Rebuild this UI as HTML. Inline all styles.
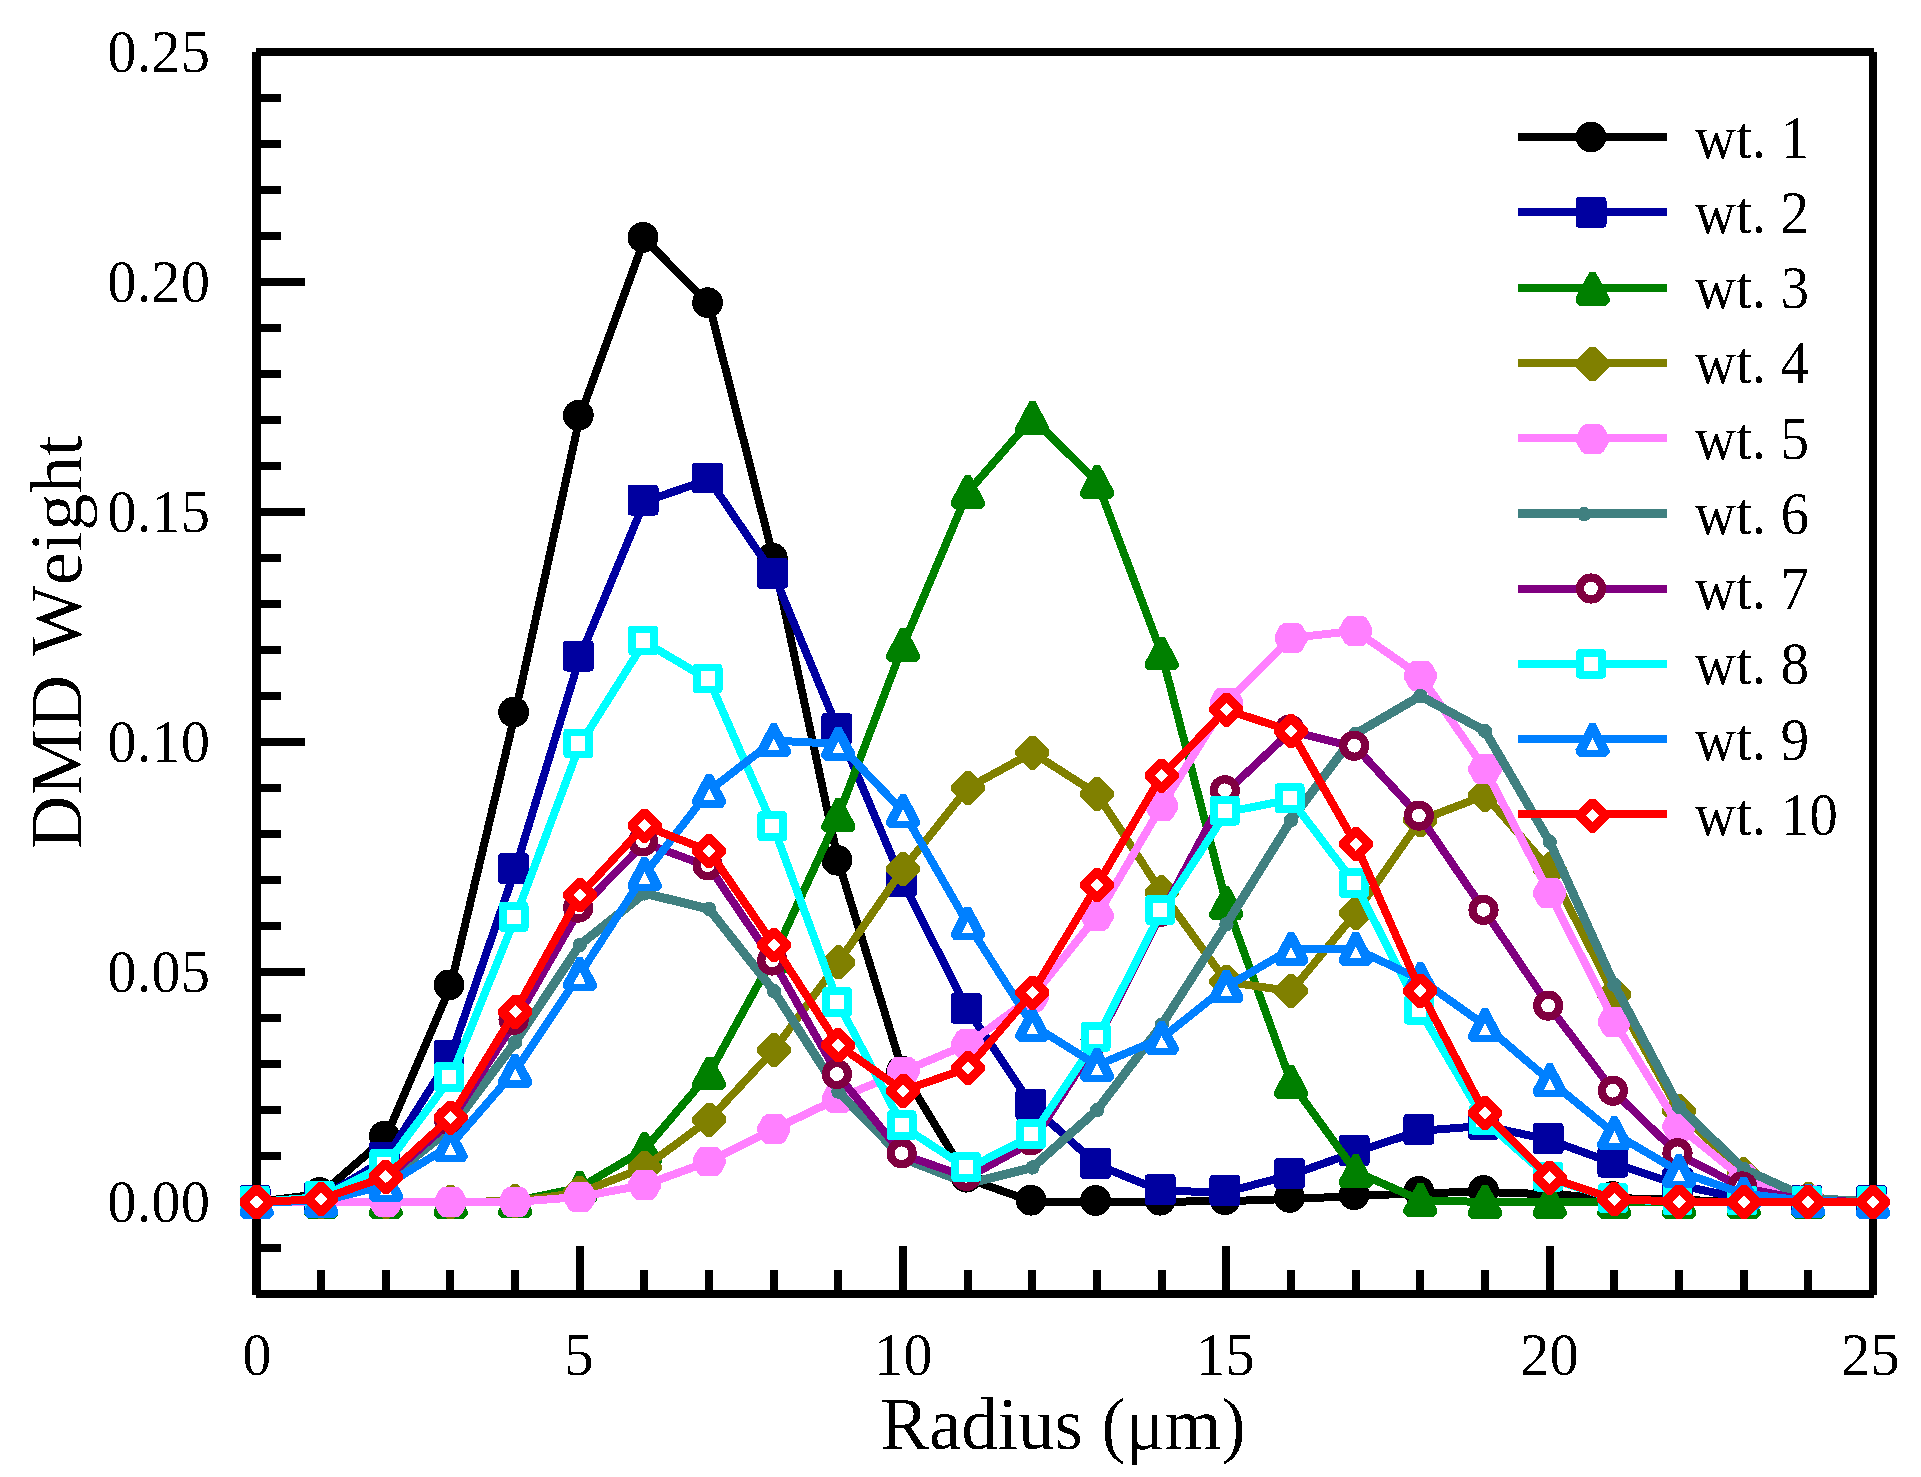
<!DOCTYPE html>
<html><head><meta charset="utf-8"><title>DMD Weight vs Radius</title>
<style>
html,body{margin:0;padding:0;background:#fff;}
body{width:1921px;height:1477px;overflow:hidden;}
svg{display:block;}
text{font-family:"Liberation Serif",serif;fill:#000;font-kerning:none;}
.tk{font-size:60.5px;}
.lg{font-size:61px;}
</style></head><body>
<svg width="1921" height="1477" viewBox="0 0 1921 1477">
<defs><filter id="na" x="-5%" y="-5%" width="110%" height="110%" color-interpolation-filters="sRGB"><feComponentTransfer><feFuncA type="discrete" tableValues="0 0 0 1 1"/></feComponentTransfer></filter></defs>
<rect width="1921" height="1477" fill="#fff"/>

<g shape-rendering="crispEdges" fill="#000">
<rect x="252" y="52" width="9" height="1243"/>
<rect x="256" y="48" width="1618" height="8"/>
<rect x="1869" y="52" width="8" height="1243"/>
<rect x="256" y="1290" width="1618" height="8"/>
<rect x="261" y="1244" width="20" height="8"/>
<rect x="261" y="1198" width="44" height="8"/>
<rect x="261" y="1152" width="20" height="8"/>
<rect x="261" y="1106" width="20" height="8"/>
<rect x="261" y="1060" width="20" height="8"/>
<rect x="261" y="1014" width="20" height="8"/>
<rect x="261" y="968" width="44" height="8"/>
<rect x="261" y="922" width="20" height="8"/>
<rect x="261" y="876" width="20" height="8"/>
<rect x="261" y="830" width="20" height="8"/>
<rect x="261" y="784" width="20" height="8"/>
<rect x="261" y="738" width="44" height="8"/>
<rect x="261" y="692" width="20" height="8"/>
<rect x="261" y="646" width="20" height="8"/>
<rect x="261" y="600" width="20" height="8"/>
<rect x="261" y="554" width="20" height="8"/>
<rect x="261" y="508" width="44" height="8"/>
<rect x="261" y="462" width="20" height="8"/>
<rect x="261" y="416" width="20" height="8"/>
<rect x="261" y="370" width="20" height="8"/>
<rect x="261" y="324" width="20" height="8"/>
<rect x="261" y="278" width="44" height="8"/>
<rect x="261" y="232" width="20" height="8"/>
<rect x="261" y="186" width="20" height="8"/>
<rect x="261" y="140" width="20" height="8"/>
<rect x="261" y="94" width="20" height="8"/>
<rect x="317" y="1270" width="8" height="20"/>
<rect x="382" y="1270" width="8" height="20"/>
<rect x="446" y="1270" width="8" height="20"/>
<rect x="511" y="1270" width="8" height="20"/>
<rect x="576" y="1246" width="8" height="44"/>
<rect x="640" y="1270" width="8" height="20"/>
<rect x="705" y="1270" width="8" height="20"/>
<rect x="770" y="1270" width="8" height="20"/>
<rect x="834" y="1270" width="8" height="20"/>
<rect x="899" y="1246" width="8" height="44"/>
<rect x="964" y="1270" width="8" height="20"/>
<rect x="1028" y="1270" width="8" height="20"/>
<rect x="1093" y="1270" width="8" height="20"/>
<rect x="1158" y="1270" width="8" height="20"/>
<rect x="1222" y="1246" width="8" height="44"/>
<rect x="1287" y="1270" width="8" height="20"/>
<rect x="1352" y="1270" width="8" height="20"/>
<rect x="1416" y="1270" width="8" height="20"/>
<rect x="1481" y="1270" width="8" height="20"/>
<rect x="1546" y="1246" width="8" height="44"/>
<rect x="1610" y="1270" width="8" height="20"/>
<rect x="1675" y="1270" width="8" height="20"/>
<rect x="1740" y="1270" width="8" height="20"/>
<rect x="1804" y="1270" width="8" height="20"/>
</g>
<g fill="none" stroke-linejoin="round" stroke-linecap="butt" shape-rendering="crispEdges">
<polyline points="256.5,1202.0 321.2,1193.9 385.8,1137.7 450.5,986.4 515.1,713.6 579.8,416.9 644.5,238.9 709.1,304.2 773.8,559.5 838.4,861.7 903.1,1072.4 967.8,1178.7 1032.4,1201.7 1097.1,1202.0 1161.7,1201.7 1226.4,1201.2 1291.1,1198.9 1355.7,1196.2 1420.4,1192.9 1485.0,1192.0 1549.7,1194.3 1614.4,1198.0 1679.0,1199.8 1743.7,1202.0 1808.3,1202.0 1873.0,1202.0" fill="none" stroke="#000000" stroke-width="8"/>
<circle cx="255.0" cy="1200.5" r="15.4" fill="#000000"/>
<circle cx="319.7" cy="1192.4" r="15.4" fill="#000000"/>
<circle cx="384.3" cy="1136.2" r="15.4" fill="#000000"/>
<circle cx="449.0" cy="984.9" r="15.4" fill="#000000"/>
<circle cx="513.6" cy="712.1" r="15.4" fill="#000000"/>
<circle cx="578.3" cy="415.4" r="15.4" fill="#000000"/>
<circle cx="643.0" cy="237.4" r="15.4" fill="#000000"/>
<circle cx="707.6" cy="302.7" r="15.4" fill="#000000"/>
<circle cx="772.3" cy="558.0" r="15.4" fill="#000000"/>
<circle cx="836.9" cy="860.2" r="15.4" fill="#000000"/>
<circle cx="901.6" cy="1070.9" r="15.4" fill="#000000"/>
<circle cx="966.3" cy="1177.2" r="15.4" fill="#000000"/>
<circle cx="1030.9" cy="1200.2" r="15.4" fill="#000000"/>
<circle cx="1095.6" cy="1200.5" r="15.4" fill="#000000"/>
<circle cx="1160.2" cy="1200.2" r="15.4" fill="#000000"/>
<circle cx="1224.9" cy="1199.7" r="15.4" fill="#000000"/>
<circle cx="1289.6" cy="1197.4" r="15.4" fill="#000000"/>
<circle cx="1354.2" cy="1194.7" r="15.4" fill="#000000"/>
<circle cx="1418.9" cy="1191.4" r="15.4" fill="#000000"/>
<circle cx="1483.5" cy="1190.5" r="15.4" fill="#000000"/>
<circle cx="1548.2" cy="1192.8" r="15.4" fill="#000000"/>
<circle cx="1612.9" cy="1196.5" r="15.4" fill="#000000"/>
<circle cx="1677.5" cy="1198.3" r="15.4" fill="#000000"/>
<circle cx="1742.2" cy="1200.5" r="15.4" fill="#000000"/>
<circle cx="1806.8" cy="1200.5" r="15.4" fill="#000000"/>
<circle cx="1871.5" cy="1200.5" r="15.4" fill="#000000"/>
<polyline points="256.5,1202.0 321.2,1198.0 385.8,1158.9 450.5,1056.8 515.1,870.0 579.8,657.5 644.5,501.6 709.1,479.5 773.8,574.7 838.4,730.2 903.1,882.9 967.8,1009.9 1032.4,1106.0 1097.1,1164.9 1161.7,1191.1 1226.4,1192.0 1291.1,1175.0 1355.7,1152.0 1420.4,1130.8 1485.0,1125.8 1549.7,1140.0 1614.4,1163.5 1679.0,1185.1 1743.7,1198.9 1808.3,1201.7 1873.0,1202.0" fill="none" stroke="#0000a0" stroke-width="8"/>
<rect x="243.3" y="1188.8" width="23.4" height="23.4" fill="#0000a0" stroke="#0000a0" stroke-width="7.6" stroke-linejoin="round"/>
<rect x="308.0" y="1184.8" width="23.4" height="23.4" fill="#0000a0" stroke="#0000a0" stroke-width="7.6" stroke-linejoin="round"/>
<rect x="372.6" y="1145.7" width="23.4" height="23.4" fill="#0000a0" stroke="#0000a0" stroke-width="7.6" stroke-linejoin="round"/>
<rect x="437.3" y="1043.6" width="23.4" height="23.4" fill="#0000a0" stroke="#0000a0" stroke-width="7.6" stroke-linejoin="round"/>
<rect x="501.9" y="856.8" width="23.4" height="23.4" fill="#0000a0" stroke="#0000a0" stroke-width="7.6" stroke-linejoin="round"/>
<rect x="566.6" y="644.3" width="23.4" height="23.4" fill="#0000a0" stroke="#0000a0" stroke-width="7.6" stroke-linejoin="round"/>
<rect x="631.3" y="488.4" width="23.4" height="23.4" fill="#0000a0" stroke="#0000a0" stroke-width="7.6" stroke-linejoin="round"/>
<rect x="695.9" y="466.3" width="23.4" height="23.4" fill="#0000a0" stroke="#0000a0" stroke-width="7.6" stroke-linejoin="round"/>
<rect x="760.6" y="561.5" width="23.4" height="23.4" fill="#0000a0" stroke="#0000a0" stroke-width="7.6" stroke-linejoin="round"/>
<rect x="825.2" y="717.0" width="23.4" height="23.4" fill="#0000a0" stroke="#0000a0" stroke-width="7.6" stroke-linejoin="round"/>
<rect x="889.9" y="869.7" width="23.4" height="23.4" fill="#0000a0" stroke="#0000a0" stroke-width="7.6" stroke-linejoin="round"/>
<rect x="954.6" y="996.7" width="23.4" height="23.4" fill="#0000a0" stroke="#0000a0" stroke-width="7.6" stroke-linejoin="round"/>
<rect x="1019.2" y="1092.8" width="23.4" height="23.4" fill="#0000a0" stroke="#0000a0" stroke-width="7.6" stroke-linejoin="round"/>
<rect x="1083.9" y="1151.7" width="23.4" height="23.4" fill="#0000a0" stroke="#0000a0" stroke-width="7.6" stroke-linejoin="round"/>
<rect x="1148.5" y="1177.9" width="23.4" height="23.4" fill="#0000a0" stroke="#0000a0" stroke-width="7.6" stroke-linejoin="round"/>
<rect x="1213.2" y="1178.8" width="23.4" height="23.4" fill="#0000a0" stroke="#0000a0" stroke-width="7.6" stroke-linejoin="round"/>
<rect x="1277.9" y="1161.8" width="23.4" height="23.4" fill="#0000a0" stroke="#0000a0" stroke-width="7.6" stroke-linejoin="round"/>
<rect x="1342.5" y="1138.8" width="23.4" height="23.4" fill="#0000a0" stroke="#0000a0" stroke-width="7.6" stroke-linejoin="round"/>
<rect x="1407.2" y="1117.6" width="23.4" height="23.4" fill="#0000a0" stroke="#0000a0" stroke-width="7.6" stroke-linejoin="round"/>
<rect x="1471.8" y="1112.6" width="23.4" height="23.4" fill="#0000a0" stroke="#0000a0" stroke-width="7.6" stroke-linejoin="round"/>
<rect x="1536.5" y="1126.8" width="23.4" height="23.4" fill="#0000a0" stroke="#0000a0" stroke-width="7.6" stroke-linejoin="round"/>
<rect x="1601.2" y="1150.3" width="23.4" height="23.4" fill="#0000a0" stroke="#0000a0" stroke-width="7.6" stroke-linejoin="round"/>
<rect x="1665.8" y="1171.9" width="23.4" height="23.4" fill="#0000a0" stroke="#0000a0" stroke-width="7.6" stroke-linejoin="round"/>
<rect x="1730.5" y="1185.7" width="23.4" height="23.4" fill="#0000a0" stroke="#0000a0" stroke-width="7.6" stroke-linejoin="round"/>
<rect x="1795.1" y="1188.5" width="23.4" height="23.4" fill="#0000a0" stroke="#0000a0" stroke-width="7.6" stroke-linejoin="round"/>
<rect x="1859.8" y="1188.8" width="23.4" height="23.4" fill="#0000a0" stroke="#0000a0" stroke-width="7.6" stroke-linejoin="round"/>
<polyline points="256.5,1202.0 321.2,1202.0 385.8,1202.0 450.5,1202.0 515.1,1201.1 579.8,1187.7 644.5,1149.6 709.1,1073.7 773.8,955.9 838.4,815.6 903.1,645.4 967.8,492.2 1032.4,418.2 1097.1,482.1 1161.7,653.7 1226.4,903.5 1291.1,1082.4 1355.7,1171.6 1420.4,1200.2 1485.0,1202.0 1549.7,1202.0 1614.4,1202.0 1679.0,1202.0 1743.7,1202.0 1808.3,1202.0 1873.0,1202.0" fill="none" stroke="#008000" stroke-width="8"/>
<path d="M253.6 1184.8L259.4 1184.8L273.5 1211.2L273.5 1215.0L270.0 1218.7L243.0 1218.7L239.5 1215.0L239.5 1211.2Z" fill="#008000"/>
<path d="M318.3 1184.8L324.1 1184.8L338.2 1211.2L338.2 1215.0L334.7 1218.7L307.7 1218.7L304.2 1215.0L304.2 1211.2Z" fill="#008000"/>
<path d="M382.9 1184.8L388.7 1184.8L402.8 1211.2L402.8 1215.0L399.3 1218.7L372.3 1218.7L368.8 1215.0L368.8 1211.2Z" fill="#008000"/>
<path d="M447.6 1184.8L453.4 1184.8L467.5 1211.2L467.5 1215.0L464.0 1218.7L437.0 1218.7L433.5 1215.0L433.5 1211.2Z" fill="#008000"/>
<path d="M512.2 1183.9L518.0 1183.9L532.1 1210.3L532.1 1214.1L528.6 1217.8L501.6 1217.8L498.1 1214.1L498.1 1210.3Z" fill="#008000"/>
<path d="M576.9 1170.5L582.7 1170.5L596.8 1196.9L596.8 1200.7L593.3 1204.4L566.3 1204.4L562.8 1200.7L562.8 1196.9Z" fill="#008000"/>
<path d="M641.6 1132.4L647.4 1132.4L661.5 1158.8L661.5 1162.6L658.0 1166.3L631.0 1166.3L627.5 1162.6L627.5 1158.8Z" fill="#008000"/>
<path d="M706.2 1056.5L712.0 1056.5L726.1 1082.9L726.1 1086.7L722.6 1090.4L695.6 1090.4L692.1 1086.7L692.1 1082.9Z" fill="#008000"/>
<path d="M770.9 938.7L776.7 938.7L790.8 965.1L790.8 968.9L787.3 972.6L760.3 972.6L756.8 968.9L756.8 965.1Z" fill="#008000"/>
<path d="M835.5 798.4L841.3 798.4L855.4 824.8L855.4 828.6L851.9 832.3L824.9 832.3L821.4 828.6L821.4 824.8Z" fill="#008000"/>
<path d="M900.2 628.2L906.0 628.2L920.1 654.6L920.1 658.4L916.6 662.1L889.6 662.1L886.1 658.4L886.1 654.6Z" fill="#008000"/>
<path d="M964.9 475.0L970.7 475.0L984.8 501.4L984.8 505.2L981.3 508.9L954.3 508.9L950.8 505.2L950.8 501.4Z" fill="#008000"/>
<path d="M1029.5 401.0L1035.3 401.0L1049.4 427.4L1049.4 431.2L1045.9 434.9L1018.9 434.9L1015.4 431.2L1015.4 427.4Z" fill="#008000"/>
<path d="M1094.2 464.9L1100.0 464.9L1114.1 491.3L1114.1 495.1L1110.6 498.8L1083.6 498.8L1080.1 495.1L1080.1 491.3Z" fill="#008000"/>
<path d="M1158.8 636.5L1164.6 636.5L1178.7 662.9L1178.7 666.7L1175.2 670.4L1148.2 670.4L1144.7 666.7L1144.7 662.9Z" fill="#008000"/>
<path d="M1223.5 886.3L1229.3 886.3L1243.4 912.7L1243.4 916.5L1239.9 920.2L1212.9 920.2L1209.4 916.5L1209.4 912.7Z" fill="#008000"/>
<path d="M1288.2 1065.2L1294.0 1065.2L1308.1 1091.6L1308.1 1095.4L1304.6 1099.1L1277.6 1099.1L1274.1 1095.4L1274.1 1091.6Z" fill="#008000"/>
<path d="M1352.8 1154.4L1358.6 1154.4L1372.7 1180.8L1372.7 1184.6L1369.2 1188.3L1342.2 1188.3L1338.7 1184.6L1338.7 1180.8Z" fill="#008000"/>
<path d="M1417.5 1183.0L1423.3 1183.0L1437.4 1209.4L1437.4 1213.2L1433.9 1216.9L1406.9 1216.9L1403.4 1213.2L1403.4 1209.4Z" fill="#008000"/>
<path d="M1482.1 1184.8L1487.9 1184.8L1502.0 1211.2L1502.0 1215.0L1498.5 1218.7L1471.5 1218.7L1468.0 1215.0L1468.0 1211.2Z" fill="#008000"/>
<path d="M1546.8 1184.8L1552.6 1184.8L1566.7 1211.2L1566.7 1215.0L1563.2 1218.7L1536.2 1218.7L1532.7 1215.0L1532.7 1211.2Z" fill="#008000"/>
<path d="M1611.5 1184.8L1617.3 1184.8L1631.4 1211.2L1631.4 1215.0L1627.9 1218.7L1600.9 1218.7L1597.4 1215.0L1597.4 1211.2Z" fill="#008000"/>
<path d="M1676.1 1184.8L1681.9 1184.8L1696.0 1211.2L1696.0 1215.0L1692.5 1218.7L1665.5 1218.7L1662.0 1215.0L1662.0 1211.2Z" fill="#008000"/>
<path d="M1740.8 1184.8L1746.6 1184.8L1760.7 1211.2L1760.7 1215.0L1757.2 1218.7L1730.2 1218.7L1726.7 1215.0L1726.7 1211.2Z" fill="#008000"/>
<path d="M1805.4 1184.8L1811.2 1184.8L1825.3 1211.2L1825.3 1215.0L1821.8 1218.7L1794.8 1218.7L1791.3 1215.0L1791.3 1211.2Z" fill="#008000"/>
<path d="M1870.1 1184.8L1875.9 1184.8L1890.0 1211.2L1890.0 1215.0L1886.5 1218.7L1859.5 1218.7L1856.0 1215.0L1856.0 1211.2Z" fill="#008000"/>
<polyline points="256.5,1202.0 321.2,1202.0 385.8,1202.0 450.5,1202.0 515.1,1201.1 579.8,1192.8 644.5,1167.5 709.1,1119.7 773.8,1050.2 838.4,962.3 903.1,869.0 967.8,788.0 1032.4,752.6 1097.1,794.0 1161.7,892.4 1226.4,981.7 1291.1,991.3 1355.7,913.1 1420.4,820.2 1485.0,795.4 1549.7,869.4 1614.4,995.0 1679.0,1110.9 1743.7,1174.4 1808.3,1198.8 1873.0,1202.0" fill="none" stroke="#808000" stroke-width="8"/>
<path d="M253.9 1185.0L259.1 1185.0L273.5 1199.4L273.5 1204.6L259.1 1219.0L253.9 1219.0L239.5 1204.6L239.5 1199.4Z" fill="#808000"/>
<path d="M318.6 1185.0L323.8 1185.0L338.2 1199.4L338.2 1204.6L323.8 1219.0L318.6 1219.0L304.2 1204.6L304.2 1199.4Z" fill="#808000"/>
<path d="M383.2 1185.0L388.4 1185.0L402.8 1199.4L402.8 1204.6L388.4 1219.0L383.2 1219.0L368.8 1204.6L368.8 1199.4Z" fill="#808000"/>
<path d="M447.9 1185.0L453.1 1185.0L467.5 1199.4L467.5 1204.6L453.1 1219.0L447.9 1219.0L433.5 1204.6L433.5 1199.4Z" fill="#808000"/>
<path d="M512.5 1184.1L517.7 1184.1L532.1 1198.5L532.1 1203.7L517.7 1218.1L512.5 1218.1L498.1 1203.7L498.1 1198.5Z" fill="#808000"/>
<path d="M577.2 1175.8L582.4 1175.8L596.8 1190.2L596.8 1195.4L582.4 1209.8L577.2 1209.8L562.8 1195.4L562.8 1190.2Z" fill="#808000"/>
<path d="M641.9 1150.5L647.1 1150.5L661.5 1164.9L661.5 1170.1L647.1 1184.5L641.9 1184.5L627.5 1170.1L627.5 1164.9Z" fill="#808000"/>
<path d="M706.5 1102.7L711.7 1102.7L726.1 1117.1L726.1 1122.3L711.7 1136.7L706.5 1136.7L692.1 1122.3L692.1 1117.1Z" fill="#808000"/>
<path d="M771.2 1033.2L776.4 1033.2L790.8 1047.6L790.8 1052.8L776.4 1067.2L771.2 1067.2L756.8 1052.8L756.8 1047.6Z" fill="#808000"/>
<path d="M835.8 945.3L841.0 945.3L855.4 959.7L855.4 964.9L841.0 979.3L835.8 979.3L821.4 964.9L821.4 959.7Z" fill="#808000"/>
<path d="M900.5 852.0L905.7 852.0L920.1 866.4L920.1 871.6L905.7 886.0L900.5 886.0L886.1 871.6L886.1 866.4Z" fill="#808000"/>
<path d="M965.2 771.0L970.4 771.0L984.8 785.4L984.8 790.6L970.4 805.0L965.2 805.0L950.8 790.6L950.8 785.4Z" fill="#808000"/>
<path d="M1029.8 735.6L1035.0 735.6L1049.4 750.0L1049.4 755.2L1035.0 769.6L1029.8 769.6L1015.4 755.2L1015.4 750.0Z" fill="#808000"/>
<path d="M1094.5 777.0L1099.7 777.0L1114.1 791.4L1114.1 796.6L1099.7 811.0L1094.5 811.0L1080.1 796.6L1080.1 791.4Z" fill="#808000"/>
<path d="M1159.1 875.4L1164.3 875.4L1178.7 889.8L1178.7 895.0L1164.3 909.4L1159.1 909.4L1144.7 895.0L1144.7 889.8Z" fill="#808000"/>
<path d="M1223.8 964.7L1229.0 964.7L1243.4 979.1L1243.4 984.3L1229.0 998.7L1223.8 998.7L1209.4 984.3L1209.4 979.1Z" fill="#808000"/>
<path d="M1288.5 974.3L1293.7 974.3L1308.1 988.7L1308.1 993.9L1293.7 1008.3L1288.5 1008.3L1274.1 993.9L1274.1 988.7Z" fill="#808000"/>
<path d="M1353.1 896.1L1358.3 896.1L1372.7 910.5L1372.7 915.7L1358.3 930.1L1353.1 930.1L1338.7 915.7L1338.7 910.5Z" fill="#808000"/>
<path d="M1417.8 803.2L1423.0 803.2L1437.4 817.6L1437.4 822.8L1423.0 837.2L1417.8 837.2L1403.4 822.8L1403.4 817.6Z" fill="#808000"/>
<path d="M1482.4 778.4L1487.6 778.4L1502.0 792.8L1502.0 798.0L1487.6 812.4L1482.4 812.4L1468.0 798.0L1468.0 792.8Z" fill="#808000"/>
<path d="M1547.1 852.4L1552.3 852.4L1566.7 866.8L1566.7 872.0L1552.3 886.4L1547.1 886.4L1532.7 872.0L1532.7 866.8Z" fill="#808000"/>
<path d="M1611.8 978.0L1617.0 978.0L1631.4 992.4L1631.4 997.6L1617.0 1012.0L1611.8 1012.0L1597.4 997.6L1597.4 992.4Z" fill="#808000"/>
<path d="M1676.4 1093.9L1681.6 1093.9L1696.0 1108.3L1696.0 1113.5L1681.6 1127.9L1676.4 1127.9L1662.0 1113.5L1662.0 1108.3Z" fill="#808000"/>
<path d="M1741.1 1157.4L1746.3 1157.4L1760.7 1171.8L1760.7 1177.0L1746.3 1191.4L1741.1 1191.4L1726.7 1177.0L1726.7 1171.8Z" fill="#808000"/>
<path d="M1805.7 1181.8L1810.9 1181.8L1825.3 1196.2L1825.3 1201.4L1810.9 1215.8L1805.7 1215.8L1791.3 1201.4L1791.3 1196.2Z" fill="#808000"/>
<path d="M1870.4 1185.0L1875.6 1185.0L1890.0 1199.4L1890.0 1204.6L1875.6 1219.0L1870.4 1219.0L1856.0 1204.6L1856.0 1199.4Z" fill="#808000"/>
<polyline points="256.5,1202.0 321.2,1202.0 385.8,1202.0 450.5,1202.0 515.1,1202.0 579.8,1196.9 644.5,1185.0 709.1,1161.5 773.8,1129.3 838.4,1098.5 903.1,1071.4 967.8,1044.2 1032.4,996.8 1097.1,915.9 1161.7,805.9 1226.4,702.4 1291.1,638.0 1355.7,630.7 1420.4,675.8 1485.0,769.1 1549.7,893.3 1614.4,1021.7 1679.0,1126.6 1743.7,1179.0 1808.3,1199.7 1873.0,1202.0" fill="none" stroke="#ff80ff" stroke-width="8"/>
<path d="M248.7 1187.1L264.3 1187.1L267.9 1190.1L273.1 1199.4L273.1 1204.6L267.9 1213.9L264.3 1216.9L248.7 1216.9L245.1 1213.9L239.9 1204.6L239.9 1199.4L245.1 1190.1Z" fill="#ff80ff"/>
<path d="M313.4 1187.1L329.0 1187.1L332.6 1190.1L337.8 1199.4L337.8 1204.6L332.6 1213.9L329.0 1216.9L313.4 1216.9L309.8 1213.9L304.6 1204.6L304.6 1199.4L309.8 1190.1Z" fill="#ff80ff"/>
<path d="M378.0 1187.1L393.6 1187.1L397.2 1190.1L402.4 1199.4L402.4 1204.6L397.2 1213.9L393.6 1216.9L378.0 1216.9L374.4 1213.9L369.2 1204.6L369.2 1199.4L374.4 1190.1Z" fill="#ff80ff"/>
<path d="M442.7 1187.1L458.3 1187.1L461.9 1190.1L467.1 1199.4L467.1 1204.6L461.9 1213.9L458.3 1216.9L442.7 1216.9L439.1 1213.9L433.9 1204.6L433.9 1199.4L439.1 1190.1Z" fill="#ff80ff"/>
<path d="M507.3 1187.1L522.9 1187.1L526.5 1190.1L531.7 1199.4L531.7 1204.6L526.5 1213.9L522.9 1216.9L507.3 1216.9L503.7 1213.9L498.5 1204.6L498.5 1199.4L503.7 1190.1Z" fill="#ff80ff"/>
<path d="M572.0 1182.0L587.6 1182.0L591.2 1185.0L596.4 1194.3L596.4 1199.5L591.2 1208.8L587.6 1211.8L572.0 1211.8L568.4 1208.8L563.2 1199.5L563.2 1194.3L568.4 1185.0Z" fill="#ff80ff"/>
<path d="M636.7 1170.1L652.3 1170.1L655.9 1173.1L661.1 1182.4L661.1 1187.6L655.9 1196.9L652.3 1199.9L636.7 1199.9L633.1 1196.9L627.9 1187.6L627.9 1182.4L633.1 1173.1Z" fill="#ff80ff"/>
<path d="M701.3 1146.6L716.9 1146.6L720.5 1149.6L725.7 1158.9L725.7 1164.1L720.5 1173.4L716.9 1176.4L701.3 1176.4L697.7 1173.4L692.5 1164.1L692.5 1158.9L697.7 1149.6Z" fill="#ff80ff"/>
<path d="M766.0 1114.4L781.6 1114.4L785.2 1117.4L790.4 1126.7L790.4 1131.9L785.2 1141.2L781.6 1144.2L766.0 1144.2L762.4 1141.2L757.2 1131.9L757.2 1126.7L762.4 1117.4Z" fill="#ff80ff"/>
<path d="M830.6 1083.6L846.2 1083.6L849.8 1086.6L855.0 1095.9L855.0 1101.1L849.8 1110.4L846.2 1113.4L830.6 1113.4L827.0 1110.4L821.8 1101.1L821.8 1095.9L827.0 1086.6Z" fill="#ff80ff"/>
<path d="M895.3 1056.5L910.9 1056.5L914.5 1059.5L919.7 1068.8L919.7 1074.0L914.5 1083.3L910.9 1086.3L895.3 1086.3L891.7 1083.3L886.5 1074.0L886.5 1068.8L891.7 1059.5Z" fill="#ff80ff"/>
<path d="M960.0 1029.3L975.6 1029.3L979.2 1032.3L984.4 1041.6L984.4 1046.8L979.2 1056.1L975.6 1059.1L960.0 1059.1L956.4 1056.1L951.2 1046.8L951.2 1041.6L956.4 1032.3Z" fill="#ff80ff"/>
<path d="M1024.6 981.9L1040.2 981.9L1043.8 984.9L1049.0 994.2L1049.0 999.4L1043.8 1008.7L1040.2 1011.7L1024.6 1011.7L1021.0 1008.7L1015.8 999.4L1015.8 994.2L1021.0 984.9Z" fill="#ff80ff"/>
<path d="M1089.3 901.0L1104.9 901.0L1108.5 904.0L1113.7 913.3L1113.7 918.5L1108.5 927.8L1104.9 930.8L1089.3 930.8L1085.7 927.8L1080.5 918.5L1080.5 913.3L1085.7 904.0Z" fill="#ff80ff"/>
<path d="M1153.9 791.0L1169.5 791.0L1173.1 794.0L1178.3 803.3L1178.3 808.5L1173.1 817.8L1169.5 820.8L1153.9 820.8L1150.3 817.8L1145.1 808.5L1145.1 803.3L1150.3 794.0Z" fill="#ff80ff"/>
<path d="M1218.6 687.5L1234.2 687.5L1237.8 690.5L1243.0 699.8L1243.0 705.0L1237.8 714.3L1234.2 717.3L1218.6 717.3L1215.0 714.3L1209.8 705.0L1209.8 699.8L1215.0 690.5Z" fill="#ff80ff"/>
<path d="M1283.3 623.1L1298.9 623.1L1302.5 626.1L1307.7 635.4L1307.7 640.6L1302.5 649.9L1298.9 652.9L1283.3 652.9L1279.7 649.9L1274.5 640.6L1274.5 635.4L1279.7 626.1Z" fill="#ff80ff"/>
<path d="M1347.9 615.8L1363.5 615.8L1367.1 618.8L1372.3 628.1L1372.3 633.3L1367.1 642.6L1363.5 645.6L1347.9 645.6L1344.3 642.6L1339.1 633.3L1339.1 628.1L1344.3 618.8Z" fill="#ff80ff"/>
<path d="M1412.6 660.9L1428.2 660.9L1431.8 663.9L1437.0 673.2L1437.0 678.4L1431.8 687.7L1428.2 690.7L1412.6 690.7L1409.0 687.7L1403.8 678.4L1403.8 673.2L1409.0 663.9Z" fill="#ff80ff"/>
<path d="M1477.2 754.2L1492.8 754.2L1496.4 757.2L1501.6 766.5L1501.6 771.7L1496.4 781.0L1492.8 784.0L1477.2 784.0L1473.6 781.0L1468.4 771.7L1468.4 766.5L1473.6 757.2Z" fill="#ff80ff"/>
<path d="M1541.9 878.4L1557.5 878.4L1561.1 881.4L1566.3 890.7L1566.3 895.9L1561.1 905.2L1557.5 908.2L1541.9 908.2L1538.3 905.2L1533.1 895.9L1533.1 890.7L1538.3 881.4Z" fill="#ff80ff"/>
<path d="M1606.6 1006.8L1622.2 1006.8L1625.8 1009.8L1631.0 1019.1L1631.0 1024.3L1625.8 1033.6L1622.2 1036.6L1606.6 1036.6L1603.0 1033.6L1597.8 1024.3L1597.8 1019.1L1603.0 1009.8Z" fill="#ff80ff"/>
<path d="M1671.2 1111.7L1686.8 1111.7L1690.4 1114.7L1695.6 1124.0L1695.6 1129.2L1690.4 1138.5L1686.8 1141.5L1671.2 1141.5L1667.6 1138.5L1662.4 1129.2L1662.4 1124.0L1667.6 1114.7Z" fill="#ff80ff"/>
<path d="M1735.9 1164.1L1751.5 1164.1L1755.1 1167.1L1760.3 1176.4L1760.3 1181.6L1755.1 1190.9L1751.5 1193.9L1735.9 1193.9L1732.3 1190.9L1727.1 1181.6L1727.1 1176.4L1732.3 1167.1Z" fill="#ff80ff"/>
<path d="M1800.5 1184.8L1816.1 1184.8L1819.7 1187.8L1824.9 1197.1L1824.9 1202.3L1819.7 1211.6L1816.1 1214.6L1800.5 1214.6L1796.9 1211.6L1791.7 1202.3L1791.7 1197.1L1796.9 1187.8Z" fill="#ff80ff"/>
<path d="M1865.2 1187.1L1880.8 1187.1L1884.4 1190.1L1889.6 1199.4L1889.6 1204.6L1884.4 1213.9L1880.8 1216.9L1865.2 1216.9L1861.6 1213.9L1856.4 1204.6L1856.4 1199.4L1861.6 1190.1Z" fill="#ff80ff"/>
<polyline points="256.5,1202.0 321.2,1199.7 385.8,1180.8 450.5,1128.4 515.1,1042.4 579.8,944.9 644.5,893.3 709.1,909.0 773.8,990.9 838.4,1091.6 903.1,1158.3 967.8,1183.6 1032.4,1167.5 1097.1,1110.0 1161.7,1024.9 1226.4,924.2 1291.1,820.2 1355.7,733.7 1420.4,696.0 1485.0,731.0 1549.7,841.8 1614.4,984.9 1679.0,1106.8 1743.7,1168.9 1808.3,1198.3 1873.0,1202.0" fill="none" stroke="#408080" stroke-width="9"/>
<circle cx="256.5" cy="1202.0" r="7.2" fill="#408080"/>
<circle cx="321.2" cy="1199.7" r="7.2" fill="#408080"/>
<circle cx="385.8" cy="1180.8" r="7.2" fill="#408080"/>
<circle cx="450.5" cy="1128.4" r="7.2" fill="#408080"/>
<circle cx="515.1" cy="1042.4" r="7.2" fill="#408080"/>
<circle cx="579.8" cy="944.9" r="7.2" fill="#408080"/>
<circle cx="644.5" cy="893.3" r="7.2" fill="#408080"/>
<circle cx="709.1" cy="909.0" r="7.2" fill="#408080"/>
<circle cx="773.8" cy="990.9" r="7.2" fill="#408080"/>
<circle cx="838.4" cy="1091.6" r="7.2" fill="#408080"/>
<circle cx="903.1" cy="1158.3" r="7.2" fill="#408080"/>
<circle cx="967.8" cy="1183.6" r="7.2" fill="#408080"/>
<circle cx="1032.4" cy="1167.5" r="7.2" fill="#408080"/>
<circle cx="1097.1" cy="1110.0" r="7.2" fill="#408080"/>
<circle cx="1161.7" cy="1024.9" r="7.2" fill="#408080"/>
<circle cx="1226.4" cy="924.2" r="7.2" fill="#408080"/>
<circle cx="1291.1" cy="820.2" r="7.2" fill="#408080"/>
<circle cx="1355.7" cy="733.7" r="7.2" fill="#408080"/>
<circle cx="1420.4" cy="696.0" r="7.2" fill="#408080"/>
<circle cx="1485.0" cy="731.0" r="7.2" fill="#408080"/>
<circle cx="1549.7" cy="841.8" r="7.2" fill="#408080"/>
<circle cx="1614.4" cy="984.9" r="7.2" fill="#408080"/>
<circle cx="1679.0" cy="1106.8" r="7.2" fill="#408080"/>
<circle cx="1743.7" cy="1168.9" r="7.2" fill="#408080"/>
<circle cx="1808.3" cy="1198.3" r="7.2" fill="#408080"/>
<circle cx="1873.0" cy="1202.0" r="7.2" fill="#408080"/>
<polyline points="256.5,1202.0 321.2,1200.8 385.8,1179.1 450.5,1121.6 515.1,1021.4 579.8,909.1 644.5,842.9 709.1,866.8 773.8,962.0 838.4,1075.6 903.1,1154.8 967.8,1177.3 1032.4,1141.9 1097.1,1041.1 1161.7,913.3 1226.4,791.8 1291.1,731.1 1355.7,747.2 1420.4,817.1 1485.0,911.4 1549.7,1007.1 1614.4,1092.2 1679.0,1154.8 1743.7,1187.9 1808.3,1200.8 1873.0,1202.0" fill="none" stroke="#800080" stroke-width="8"/>
<circle cx="255.0" cy="1200.5" r="11.0" fill="#fff" stroke="#800040" stroke-width="8.2"/>
<circle cx="319.7" cy="1199.3" r="11.0" fill="#fff" stroke="#800040" stroke-width="8.2"/>
<circle cx="384.3" cy="1177.6" r="11.0" fill="#fff" stroke="#800040" stroke-width="8.2"/>
<circle cx="449.0" cy="1120.1" r="11.0" fill="#fff" stroke="#800040" stroke-width="8.2"/>
<circle cx="513.6" cy="1019.9" r="11.0" fill="#fff" stroke="#800040" stroke-width="8.2"/>
<circle cx="578.3" cy="907.6" r="11.0" fill="#fff" stroke="#800040" stroke-width="8.2"/>
<circle cx="643.0" cy="841.4" r="11.0" fill="#fff" stroke="#800040" stroke-width="8.2"/>
<circle cx="707.6" cy="865.3" r="11.0" fill="#fff" stroke="#800040" stroke-width="8.2"/>
<circle cx="772.3" cy="960.5" r="11.0" fill="#fff" stroke="#800040" stroke-width="8.2"/>
<circle cx="836.9" cy="1074.1" r="11.0" fill="#fff" stroke="#800040" stroke-width="8.2"/>
<circle cx="901.6" cy="1153.3" r="11.0" fill="#fff" stroke="#800040" stroke-width="8.2"/>
<circle cx="966.3" cy="1175.8" r="11.0" fill="#fff" stroke="#800040" stroke-width="8.2"/>
<circle cx="1030.9" cy="1140.4" r="11.0" fill="#fff" stroke="#800040" stroke-width="8.2"/>
<circle cx="1095.6" cy="1039.6" r="11.0" fill="#fff" stroke="#800040" stroke-width="8.2"/>
<circle cx="1160.2" cy="911.8" r="11.0" fill="#fff" stroke="#800040" stroke-width="8.2"/>
<circle cx="1224.9" cy="790.3" r="11.0" fill="#fff" stroke="#800040" stroke-width="8.2"/>
<circle cx="1289.6" cy="729.6" r="11.0" fill="#fff" stroke="#800040" stroke-width="8.2"/>
<circle cx="1354.2" cy="745.7" r="11.0" fill="#fff" stroke="#800040" stroke-width="8.2"/>
<circle cx="1418.9" cy="815.6" r="11.0" fill="#fff" stroke="#800040" stroke-width="8.2"/>
<circle cx="1483.5" cy="909.9" r="11.0" fill="#fff" stroke="#800040" stroke-width="8.2"/>
<circle cx="1548.2" cy="1005.6" r="11.0" fill="#fff" stroke="#800040" stroke-width="8.2"/>
<circle cx="1612.9" cy="1090.7" r="11.0" fill="#fff" stroke="#800040" stroke-width="8.2"/>
<circle cx="1677.5" cy="1153.3" r="11.0" fill="#fff" stroke="#800040" stroke-width="8.2"/>
<circle cx="1742.2" cy="1186.4" r="11.0" fill="#fff" stroke="#800040" stroke-width="8.2"/>
<circle cx="1806.8" cy="1199.3" r="11.0" fill="#fff" stroke="#800040" stroke-width="8.2"/>
<circle cx="1871.5" cy="1200.5" r="11.0" fill="#fff" stroke="#800040" stroke-width="8.2"/>
<polyline points="256.5,1202.0 321.2,1197.1 385.8,1165.3 450.5,1078.4 515.1,918.3 579.8,744.9 644.5,641.9 709.1,680.0 773.8,827.7 838.4,1003.4 903.1,1126.7 967.8,1168.6 1032.4,1135.4 1097.1,1038.4 1161.7,911.4 1226.4,812.1 1291.1,799.6 1355.7,884.7 1420.4,1011.2 1485.0,1121.2 1549.7,1178.2 1614.4,1199.4 1679.0,1201.7 1743.7,1202.0 1808.3,1202.0 1873.0,1202.0" fill="none" stroke="#00ffff" stroke-width="8"/>
<rect x="244.0" y="1189.5" width="22.0" height="22.0" fill="#fff" stroke="#00ffff" stroke-width="7.8" stroke-linejoin="round"/>
<rect x="308.7" y="1184.6" width="22.0" height="22.0" fill="#fff" stroke="#00ffff" stroke-width="7.8" stroke-linejoin="round"/>
<rect x="373.3" y="1152.8" width="22.0" height="22.0" fill="#fff" stroke="#00ffff" stroke-width="7.8" stroke-linejoin="round"/>
<rect x="438.0" y="1065.9" width="22.0" height="22.0" fill="#fff" stroke="#00ffff" stroke-width="7.8" stroke-linejoin="round"/>
<rect x="502.6" y="905.8" width="22.0" height="22.0" fill="#fff" stroke="#00ffff" stroke-width="7.8" stroke-linejoin="round"/>
<rect x="567.3" y="732.4" width="22.0" height="22.0" fill="#fff" stroke="#00ffff" stroke-width="7.8" stroke-linejoin="round"/>
<rect x="632.0" y="629.4" width="22.0" height="22.0" fill="#fff" stroke="#00ffff" stroke-width="7.8" stroke-linejoin="round"/>
<rect x="696.6" y="667.5" width="22.0" height="22.0" fill="#fff" stroke="#00ffff" stroke-width="7.8" stroke-linejoin="round"/>
<rect x="761.3" y="815.2" width="22.0" height="22.0" fill="#fff" stroke="#00ffff" stroke-width="7.8" stroke-linejoin="round"/>
<rect x="825.9" y="990.9" width="22.0" height="22.0" fill="#fff" stroke="#00ffff" stroke-width="7.8" stroke-linejoin="round"/>
<rect x="890.6" y="1114.2" width="22.0" height="22.0" fill="#fff" stroke="#00ffff" stroke-width="7.8" stroke-linejoin="round"/>
<rect x="955.3" y="1156.1" width="22.0" height="22.0" fill="#fff" stroke="#00ffff" stroke-width="7.8" stroke-linejoin="round"/>
<rect x="1019.9" y="1122.9" width="22.0" height="22.0" fill="#fff" stroke="#00ffff" stroke-width="7.8" stroke-linejoin="round"/>
<rect x="1084.6" y="1025.9" width="22.0" height="22.0" fill="#fff" stroke="#00ffff" stroke-width="7.8" stroke-linejoin="round"/>
<rect x="1149.2" y="898.9" width="22.0" height="22.0" fill="#fff" stroke="#00ffff" stroke-width="7.8" stroke-linejoin="round"/>
<rect x="1213.9" y="799.6" width="22.0" height="22.0" fill="#fff" stroke="#00ffff" stroke-width="7.8" stroke-linejoin="round"/>
<rect x="1278.6" y="787.1" width="22.0" height="22.0" fill="#fff" stroke="#00ffff" stroke-width="7.8" stroke-linejoin="round"/>
<rect x="1343.2" y="872.2" width="22.0" height="22.0" fill="#fff" stroke="#00ffff" stroke-width="7.8" stroke-linejoin="round"/>
<rect x="1407.9" y="998.7" width="22.0" height="22.0" fill="#fff" stroke="#00ffff" stroke-width="7.8" stroke-linejoin="round"/>
<rect x="1472.5" y="1108.7" width="22.0" height="22.0" fill="#fff" stroke="#00ffff" stroke-width="7.8" stroke-linejoin="round"/>
<rect x="1537.2" y="1165.7" width="22.0" height="22.0" fill="#fff" stroke="#00ffff" stroke-width="7.8" stroke-linejoin="round"/>
<rect x="1601.9" y="1186.9" width="22.0" height="22.0" fill="#fff" stroke="#00ffff" stroke-width="7.8" stroke-linejoin="round"/>
<rect x="1666.5" y="1189.2" width="22.0" height="22.0" fill="#fff" stroke="#00ffff" stroke-width="7.8" stroke-linejoin="round"/>
<rect x="1731.2" y="1189.5" width="22.0" height="22.0" fill="#fff" stroke="#00ffff" stroke-width="7.8" stroke-linejoin="round"/>
<rect x="1795.8" y="1189.5" width="22.0" height="22.0" fill="#fff" stroke="#00ffff" stroke-width="7.8" stroke-linejoin="round"/>
<rect x="1860.5" y="1189.5" width="22.0" height="22.0" fill="#fff" stroke="#00ffff" stroke-width="7.8" stroke-linejoin="round"/>
<polyline points="256.5,1202.0 321.2,1201.1 385.8,1185.4 450.5,1145.4 515.1,1070.9 579.8,974.3 644.5,874.5 709.1,790.8 773.8,740.6 838.4,743.8 903.1,811.5 967.8,923.7 1032.4,1024.9 1097.1,1065.4 1161.7,1038.2 1226.4,986.7 1291.1,949.0 1355.7,949.0 1420.4,979.4 1485.0,1025.4 1549.7,1080.6 1614.4,1133.5 1679.0,1171.6 1743.7,1193.7 1808.3,1201.1 1873.0,1202.0" fill="none" stroke="#0080ff" stroke-width="8"/>
<path d="M253.6 1184.8L259.4 1184.8L273.5 1211.2L273.5 1215.0L270.0 1218.7L243.0 1218.7L239.5 1215.0L239.5 1211.2Z" fill="#0080ff"/><path d="M256.5 1199.7L262.4 1211.4L250.7 1211.4Z" fill="#fff"/>
<path d="M318.3 1183.9L324.1 1183.9L338.2 1210.3L338.2 1214.1L334.7 1217.8L307.7 1217.8L304.2 1214.1L304.2 1210.3Z" fill="#0080ff"/><path d="M321.2 1198.8L327.0 1210.5L315.3 1210.5Z" fill="#fff"/>
<path d="M382.9 1168.2L388.7 1168.2L402.8 1194.6L402.8 1198.4L399.3 1202.1L372.3 1202.1L368.8 1198.4L368.8 1194.6Z" fill="#0080ff"/><path d="M385.8 1183.1L391.7 1194.8L380.0 1194.8Z" fill="#fff"/>
<path d="M447.6 1128.2L453.4 1128.2L467.5 1154.6L467.5 1158.4L464.0 1162.1L437.0 1162.1L433.5 1158.4L433.5 1154.6Z" fill="#0080ff"/><path d="M450.5 1143.1L456.3 1154.8L444.6 1154.8Z" fill="#fff"/>
<path d="M512.2 1053.7L518.0 1053.7L532.1 1080.1L532.1 1083.9L528.6 1087.6L501.6 1087.6L498.1 1083.9L498.1 1080.1Z" fill="#0080ff"/><path d="M515.1 1068.6L521.0 1080.3L509.3 1080.3Z" fill="#fff"/>
<path d="M576.9 957.1L582.7 957.1L596.8 983.5L596.8 987.3L593.3 991.0L566.3 991.0L562.8 987.3L562.8 983.5Z" fill="#0080ff"/><path d="M579.8 972.0L585.6 983.7L573.9 983.7Z" fill="#fff"/>
<path d="M641.6 857.3L647.4 857.3L661.5 883.7L661.5 887.5L658.0 891.2L631.0 891.2L627.5 887.5L627.5 883.7Z" fill="#0080ff"/><path d="M644.5 872.2L650.3 883.9L638.6 883.9Z" fill="#fff"/>
<path d="M706.2 773.6L712.0 773.6L726.1 800.0L726.1 803.8L722.6 807.5L695.6 807.5L692.1 803.8L692.1 800.0Z" fill="#0080ff"/><path d="M709.1 788.5L715.0 800.2L703.3 800.2Z" fill="#fff"/>
<path d="M770.9 723.4L776.7 723.4L790.8 749.8L790.8 753.6L787.3 757.3L760.3 757.3L756.8 753.6L756.8 749.8Z" fill="#0080ff"/><path d="M773.8 738.3L779.6 750.0L767.9 750.0Z" fill="#fff"/>
<path d="M835.5 726.6L841.3 726.6L855.4 753.0L855.4 756.8L851.9 760.5L824.9 760.5L821.4 756.8L821.4 753.0Z" fill="#0080ff"/><path d="M838.4 741.5L844.3 753.2L832.6 753.2Z" fill="#fff"/>
<path d="M900.2 794.3L906.0 794.3L920.1 820.7L920.1 824.5L916.6 828.2L889.6 828.2L886.1 824.5L886.1 820.7Z" fill="#0080ff"/><path d="M903.1 809.2L908.9 820.9L897.2 820.9Z" fill="#fff"/>
<path d="M964.9 906.5L970.7 906.5L984.8 932.9L984.8 936.7L981.3 940.4L954.3 940.4L950.8 936.7L950.8 932.9Z" fill="#0080ff"/><path d="M967.8 921.4L973.6 933.1L961.9 933.1Z" fill="#fff"/>
<path d="M1029.5 1007.7L1035.3 1007.7L1049.4 1034.1L1049.4 1037.9L1045.9 1041.6L1018.9 1041.6L1015.4 1037.9L1015.4 1034.1Z" fill="#0080ff"/><path d="M1032.4 1022.6L1038.3 1034.3L1026.6 1034.3Z" fill="#fff"/>
<path d="M1094.2 1048.2L1100.0 1048.2L1114.1 1074.6L1114.1 1078.4L1110.6 1082.1L1083.6 1082.1L1080.1 1078.4L1080.1 1074.6Z" fill="#0080ff"/><path d="M1097.1 1063.1L1102.9 1074.8L1091.2 1074.8Z" fill="#fff"/>
<path d="M1158.8 1021.0L1164.6 1021.0L1178.7 1047.4L1178.7 1051.2L1175.2 1054.9L1148.2 1054.9L1144.7 1051.2L1144.7 1047.4Z" fill="#0080ff"/><path d="M1161.7 1035.9L1167.6 1047.6L1155.9 1047.6Z" fill="#fff"/>
<path d="M1223.5 969.5L1229.3 969.5L1243.4 995.9L1243.4 999.7L1239.9 1003.4L1212.9 1003.4L1209.4 999.7L1209.4 995.9Z" fill="#0080ff"/><path d="M1226.4 984.4L1232.2 996.1L1220.6 996.1Z" fill="#fff"/>
<path d="M1288.2 931.8L1294.0 931.8L1308.1 958.2L1308.1 962.0L1304.6 965.7L1277.6 965.7L1274.1 962.0L1274.1 958.2Z" fill="#0080ff"/><path d="M1291.1 946.7L1296.9 958.4L1285.2 958.4Z" fill="#fff"/>
<path d="M1352.8 931.8L1358.6 931.8L1372.7 958.2L1372.7 962.0L1369.2 965.7L1342.2 965.7L1338.7 962.0L1338.7 958.2Z" fill="#0080ff"/><path d="M1355.7 946.7L1361.6 958.4L1349.9 958.4Z" fill="#fff"/>
<path d="M1417.5 962.2L1423.3 962.2L1437.4 988.6L1437.4 992.4L1433.9 996.1L1406.9 996.1L1403.4 992.4L1403.4 988.6Z" fill="#0080ff"/><path d="M1420.4 977.1L1426.2 988.8L1414.5 988.8Z" fill="#fff"/>
<path d="M1482.1 1008.2L1487.9 1008.2L1502.0 1034.6L1502.0 1038.4L1498.5 1042.1L1471.5 1042.1L1468.0 1038.4L1468.0 1034.6Z" fill="#0080ff"/><path d="M1485.0 1023.1L1490.9 1034.8L1479.2 1034.8Z" fill="#fff"/>
<path d="M1546.8 1063.4L1552.6 1063.4L1566.7 1089.8L1566.7 1093.6L1563.2 1097.3L1536.2 1097.3L1532.7 1093.6L1532.7 1089.8Z" fill="#0080ff"/><path d="M1549.7 1078.3L1555.5 1090.0L1543.8 1090.0Z" fill="#fff"/>
<path d="M1611.5 1116.3L1617.3 1116.3L1631.4 1142.7L1631.4 1146.5L1627.9 1150.2L1600.9 1150.2L1597.4 1146.5L1597.4 1142.7Z" fill="#0080ff"/><path d="M1614.4 1131.2L1620.2 1142.9L1608.5 1142.9Z" fill="#fff"/>
<path d="M1676.1 1154.4L1681.9 1154.4L1696.0 1180.8L1696.0 1184.6L1692.5 1188.3L1665.5 1188.3L1662.0 1184.6L1662.0 1180.8Z" fill="#0080ff"/><path d="M1679.0 1169.3L1684.9 1181.0L1673.2 1181.0Z" fill="#fff"/>
<path d="M1740.8 1176.5L1746.6 1176.5L1760.7 1202.9L1760.7 1206.7L1757.2 1210.4L1730.2 1210.4L1726.7 1206.7L1726.7 1202.9Z" fill="#0080ff"/><path d="M1743.7 1191.4L1749.5 1203.1L1737.8 1203.1Z" fill="#fff"/>
<path d="M1805.4 1183.9L1811.2 1183.9L1825.3 1210.3L1825.3 1214.1L1821.8 1217.8L1794.8 1217.8L1791.3 1214.1L1791.3 1210.3Z" fill="#0080ff"/><path d="M1808.3 1198.8L1814.2 1210.5L1802.5 1210.5Z" fill="#fff"/>
<path d="M1870.1 1184.8L1875.9 1184.8L1890.0 1211.2L1890.0 1215.0L1886.5 1218.7L1859.5 1218.7L1856.0 1215.0L1856.0 1211.2Z" fill="#0080ff"/><path d="M1873.0 1199.7L1878.8 1211.4L1867.2 1211.4Z" fill="#fff"/>
<polyline points="256.5,1202.0 321.2,1199.2 385.8,1176.7 450.5,1117.8 515.1,1011.6 579.8,895.2 644.5,825.7 709.1,851.0 773.8,944.9 838.4,1045.1 903.1,1090.7 967.8,1068.1 1032.4,992.7 1097.1,885.1 1161.7,775.6 1226.4,709.8 1291.1,731.0 1355.7,844.1 1420.4,990.9 1485.0,1113.2 1549.7,1177.6 1614.4,1199.2 1679.0,1201.5 1743.7,1202.0 1808.3,1202.0 1873.0,1202.0" fill="none" stroke="#ff0000" stroke-width="8"/>
<path d="M253.9 1185.0L259.1 1185.0L273.5 1199.4L273.5 1204.6L259.1 1219.0L253.9 1219.0L239.5 1204.6L239.5 1199.4Z" fill="#ff0000"/><path d="M256.5 1195.5L263.1 1202.0L256.5 1208.5L249.9 1202.0Z" fill="#fff"/>
<path d="M318.6 1182.2L323.8 1182.2L338.2 1196.6L338.2 1201.8L323.8 1216.2L318.6 1216.2L304.2 1201.8L304.2 1196.6Z" fill="#ff0000"/><path d="M321.2 1192.7L327.7 1199.2L321.2 1205.8L314.6 1199.2Z" fill="#fff"/>
<path d="M383.2 1159.7L388.4 1159.7L402.8 1174.1L402.8 1179.3L388.4 1193.7L383.2 1193.7L368.8 1179.3L368.8 1174.1Z" fill="#ff0000"/><path d="M385.8 1170.2L392.4 1176.7L385.8 1183.2L379.3 1176.7Z" fill="#fff"/>
<path d="M447.9 1100.8L453.1 1100.8L467.5 1115.2L467.5 1120.4L453.1 1134.8L447.9 1134.8L433.5 1120.4L433.5 1115.2Z" fill="#ff0000"/><path d="M450.5 1111.3L457.0 1117.8L450.5 1124.4L443.9 1117.8Z" fill="#fff"/>
<path d="M512.5 994.6L517.7 994.6L532.1 1009.0L532.1 1014.2L517.7 1028.6L512.5 1028.6L498.1 1014.2L498.1 1009.0Z" fill="#ff0000"/><path d="M515.1 1005.0L521.7 1011.6L515.1 1018.1L508.6 1011.6Z" fill="#fff"/>
<path d="M577.2 878.2L582.4 878.2L596.8 892.6L596.8 897.8L582.4 912.2L577.2 912.2L562.8 897.8L562.8 892.6Z" fill="#ff0000"/><path d="M579.8 888.6L586.3 895.2L579.8 901.7L573.2 895.2Z" fill="#fff"/>
<path d="M641.9 808.7L647.1 808.7L661.5 823.1L661.5 828.3L647.1 842.7L641.9 842.7L627.5 828.3L627.5 823.1Z" fill="#ff0000"/><path d="M644.5 819.2L651.0 825.7L644.5 832.3L637.9 825.7Z" fill="#fff"/>
<path d="M706.5 834.0L711.7 834.0L726.1 848.4L726.1 853.6L711.7 868.0L706.5 868.0L692.1 853.6L692.1 848.4Z" fill="#ff0000"/><path d="M709.1 844.5L715.7 851.0L709.1 857.6L702.6 851.0Z" fill="#fff"/>
<path d="M771.2 927.9L776.4 927.9L790.8 942.3L790.8 947.5L776.4 961.9L771.2 961.9L756.8 947.5L756.8 942.3Z" fill="#ff0000"/><path d="M773.8 938.3L780.3 944.9L773.8 951.4L767.2 944.9Z" fill="#fff"/>
<path d="M835.8 1028.1L841.0 1028.1L855.4 1042.5L855.4 1047.7L841.0 1062.1L835.8 1062.1L821.4 1047.7L821.4 1042.5Z" fill="#ff0000"/><path d="M838.4 1038.6L845.0 1045.1L838.4 1051.7L831.9 1045.1Z" fill="#fff"/>
<path d="M900.5 1073.7L905.7 1073.7L920.1 1088.1L920.1 1093.3L905.7 1107.7L900.5 1107.7L886.1 1093.3L886.1 1088.1Z" fill="#ff0000"/><path d="M903.1 1084.1L909.6 1090.7L903.1 1097.2L896.5 1090.7Z" fill="#fff"/>
<path d="M965.2 1051.1L970.4 1051.1L984.8 1065.5L984.8 1070.7L970.4 1085.1L965.2 1085.1L950.8 1070.7L950.8 1065.5Z" fill="#ff0000"/><path d="M967.8 1061.6L974.3 1068.1L967.8 1074.7L961.2 1068.1Z" fill="#fff"/>
<path d="M1029.8 975.7L1035.0 975.7L1049.4 990.1L1049.4 995.3L1035.0 1009.7L1029.8 1009.7L1015.4 995.3L1015.4 990.1Z" fill="#ff0000"/><path d="M1032.4 986.2L1039.0 992.7L1032.4 999.2L1025.9 992.7Z" fill="#fff"/>
<path d="M1094.5 868.1L1099.7 868.1L1114.1 882.5L1114.1 887.7L1099.7 902.1L1094.5 902.1L1080.1 887.7L1080.1 882.5Z" fill="#ff0000"/><path d="M1097.1 878.5L1103.6 885.1L1097.1 891.6L1090.5 885.1Z" fill="#fff"/>
<path d="M1159.1 758.6L1164.3 758.6L1178.7 773.0L1178.7 778.2L1164.3 792.6L1159.1 792.6L1144.7 778.2L1144.7 773.0Z" fill="#ff0000"/><path d="M1161.7 769.0L1168.3 775.6L1161.7 782.1L1155.2 775.6Z" fill="#fff"/>
<path d="M1223.8 692.8L1229.0 692.8L1243.4 707.2L1243.4 712.4L1229.0 726.8L1223.8 726.8L1209.4 712.4L1209.4 707.2Z" fill="#ff0000"/><path d="M1226.4 703.2L1233.0 709.8L1226.4 716.3L1219.9 709.8Z" fill="#fff"/>
<path d="M1288.5 714.0L1293.7 714.0L1308.1 728.4L1308.1 733.6L1293.7 748.0L1288.5 748.0L1274.1 733.6L1274.1 728.4Z" fill="#ff0000"/><path d="M1291.1 724.4L1297.6 731.0L1291.1 737.5L1284.5 731.0Z" fill="#fff"/>
<path d="M1353.1 827.1L1358.3 827.1L1372.7 841.5L1372.7 846.7L1358.3 861.1L1353.1 861.1L1338.7 846.7L1338.7 841.5Z" fill="#ff0000"/><path d="M1355.7 837.6L1362.3 844.1L1355.7 850.7L1349.2 844.1Z" fill="#fff"/>
<path d="M1417.8 973.9L1423.0 973.9L1437.4 988.3L1437.4 993.5L1423.0 1007.9L1417.8 1007.9L1403.4 993.5L1403.4 988.3Z" fill="#ff0000"/><path d="M1420.4 984.3L1426.9 990.9L1420.4 997.4L1413.8 990.9Z" fill="#fff"/>
<path d="M1482.4 1096.2L1487.6 1096.2L1502.0 1110.6L1502.0 1115.8L1487.6 1130.2L1482.4 1130.2L1468.0 1115.8L1468.0 1110.6Z" fill="#ff0000"/><path d="M1485.0 1106.7L1491.6 1113.2L1485.0 1119.8L1478.5 1113.2Z" fill="#fff"/>
<path d="M1547.1 1160.6L1552.3 1160.6L1566.7 1175.0L1566.7 1180.2L1552.3 1194.6L1547.1 1194.6L1532.7 1180.2L1532.7 1175.0Z" fill="#ff0000"/><path d="M1549.7 1171.1L1556.2 1177.6L1549.7 1184.2L1543.1 1177.6Z" fill="#fff"/>
<path d="M1611.8 1182.2L1617.0 1182.2L1631.4 1196.6L1631.4 1201.8L1617.0 1216.2L1611.8 1216.2L1597.4 1201.8L1597.4 1196.6Z" fill="#ff0000"/><path d="M1614.4 1192.7L1620.9 1199.2L1614.4 1205.8L1607.8 1199.2Z" fill="#fff"/>
<path d="M1676.4 1184.5L1681.6 1184.5L1696.0 1198.9L1696.0 1204.1L1681.6 1218.5L1676.4 1218.5L1662.0 1204.1L1662.0 1198.9Z" fill="#ff0000"/><path d="M1679.0 1195.0L1685.6 1201.5L1679.0 1208.1L1672.5 1201.5Z" fill="#fff"/>
<path d="M1741.1 1185.0L1746.3 1185.0L1760.7 1199.4L1760.7 1204.6L1746.3 1219.0L1741.1 1219.0L1726.7 1204.6L1726.7 1199.4Z" fill="#ff0000"/><path d="M1743.7 1195.5L1750.2 1202.0L1743.7 1208.5L1737.1 1202.0Z" fill="#fff"/>
<path d="M1805.7 1185.0L1810.9 1185.0L1825.3 1199.4L1825.3 1204.6L1810.9 1219.0L1805.7 1219.0L1791.3 1204.6L1791.3 1199.4Z" fill="#ff0000"/><path d="M1808.3 1195.5L1814.9 1202.0L1808.3 1208.5L1801.8 1202.0Z" fill="#fff"/>
<path d="M1870.4 1185.0L1875.6 1185.0L1890.0 1199.4L1890.0 1204.6L1875.6 1219.0L1870.4 1219.0L1856.0 1204.6L1856.0 1199.4Z" fill="#ff0000"/><path d="M1873.0 1195.5L1879.5 1202.0L1873.0 1208.5L1866.5 1202.0Z" fill="#fff"/>
</g>
<g filter="url(#na)">
<text class="tk" transform="translate(210,1222) scale(0.97,1)" text-anchor="end">0.00</text>
<text class="tk" transform="translate(210,992) scale(0.97,1)" text-anchor="end">0.05</text>
<text class="tk" transform="translate(210,762) scale(0.97,1)" text-anchor="end">0.10</text>
<text class="tk" transform="translate(210,532) scale(0.97,1)" text-anchor="end">0.15</text>
<text class="tk" transform="translate(210,302) scale(0.97,1)" text-anchor="end">0.20</text>
<text class="tk" transform="translate(210,72) scale(0.97,1)" text-anchor="end">0.25</text>
<text class="tk" transform="translate(257.0,1375) scale(0.97,1)" text-anchor="middle">0</text>
<text class="tk" transform="translate(578.8,1375) scale(0.97,1)" text-anchor="middle">5</text>
<text class="tk" transform="translate(903.3,1375) scale(0.97,1)" text-anchor="middle">10</text>
<text class="tk" transform="translate(1225.4,1375) scale(0.97,1)" text-anchor="middle">15</text>
<text class="tk" transform="translate(1549.5,1375) scale(0.97,1)" text-anchor="middle">20</text>
<text class="tk" transform="translate(1870.5,1375) scale(0.97,1)" text-anchor="middle">25</text>
<text x="1063" y="1449" text-anchor="middle" style="font-size:73px">Radius (μm)</text>
<text transform="translate(81.5,642.5) rotate(-90)" text-anchor="middle" style="font-size:75px">DMD Weight</text>
</g>
<rect x="1518" y="133" width="149" height="8" fill="#000000" shape-rendering="crispEdges"/>
<g shape-rendering="crispEdges"><circle cx="1591.0" cy="137.0" r="15.4" fill="#000000"/></g>
<text class="lg" filter="url(#na)" transform="translate(1694.5,157.6) scale(0.94,1)">wt. 1</text>
<rect x="1518" y="208" width="149" height="8" fill="#0000a0" shape-rendering="crispEdges"/>
<g shape-rendering="crispEdges"><rect x="1579.3" y="200.6" width="23.4" height="23.4" fill="#0000a0" stroke="#0000a0" stroke-width="7.6" stroke-linejoin="round"/></g>
<text class="lg" filter="url(#na)" transform="translate(1694.5,232.8) scale(0.94,1)">wt. 2</text>
<rect x="1518" y="284" width="149" height="8" fill="#008000" shape-rendering="crispEdges"/>
<g shape-rendering="crispEdges"><path d="M1589.6 271.6L1595.4 271.6L1609.5 298.0L1609.5 301.8L1606.0 305.5L1579.0 305.5L1575.5 301.8L1575.5 298.0Z" fill="#008000"/></g>
<text class="lg" filter="url(#na)" transform="translate(1694.5,308.1) scale(0.94,1)">wt. 3</text>
<rect x="1518" y="359" width="149" height="8" fill="#808000" shape-rendering="crispEdges"/>
<g shape-rendering="crispEdges"><path d="M1589.9 347.1L1595.1 347.1L1609.5 361.4L1609.5 366.7L1595.1 381.1L1589.9 381.1L1575.5 366.7L1575.5 361.4Z" fill="#808000"/></g>
<text class="lg" filter="url(#na)" transform="translate(1694.5,383.4) scale(0.94,1)">wt. 4</text>
<rect x="1518" y="434" width="149" height="8" fill="#ff80ff" shape-rendering="crispEdges"/>
<g shape-rendering="crispEdges"><path d="M1584.7 424.4L1600.3 424.4L1603.9 427.4L1609.1 436.7L1609.1 441.9L1603.9 451.2L1600.3 454.2L1584.7 454.2L1581.1 451.2L1575.9 441.9L1575.9 436.7L1581.1 427.4Z" fill="#ff80ff"/></g>
<text class="lg" filter="url(#na)" transform="translate(1694.5,458.6) scale(0.94,1)">wt. 5</text>
<rect x="1518" y="509" width="149" height="9" fill="#408080" shape-rendering="crispEdges"/>
<g shape-rendering="crispEdges"><circle cx="1584.1" cy="514.1" r="7.2" fill="#408080"/></g>
<text class="lg" filter="url(#na)" transform="translate(1694.5,533.9) scale(0.94,1)">wt. 6</text>
<rect x="1518" y="585" width="149" height="8" fill="#800080" shape-rendering="crispEdges"/>
<g shape-rendering="crispEdges"><circle cx="1591.0" cy="588.5" r="11.0" fill="#fff" stroke="#800040" stroke-width="8.2"/></g>
<text class="lg" filter="url(#na)" transform="translate(1694.5,609.1) scale(0.94,1)">wt. 7</text>
<rect x="1518" y="660" width="149" height="8" fill="#00ffff" shape-rendering="crispEdges"/>
<g shape-rendering="crispEdges"><rect x="1580.0" y="652.8" width="22.0" height="22.0" fill="#fff" stroke="#00ffff" stroke-width="7.8" stroke-linejoin="round"/></g>
<text class="lg" filter="url(#na)" transform="translate(1694.5,684.4) scale(0.94,1)">wt. 8</text>
<rect x="1518" y="735" width="149" height="8" fill="#0080ff" shape-rendering="crispEdges"/>
<g shape-rendering="crispEdges"><path d="M1589.6 723.1L1595.4 723.1L1609.5 749.5L1609.5 753.3L1606.0 757.0L1579.0 757.0L1575.5 753.3L1575.5 749.5Z" fill="#0080ff"/><path d="M1592.5 738.0L1598.3 749.7L1586.7 749.7Z" fill="#fff"/></g>
<text class="lg" filter="url(#na)" transform="translate(1694.5,759.6) scale(0.94,1)">wt. 9</text>
<rect x="1518" y="810" width="149" height="8" fill="#ff0000" shape-rendering="crispEdges"/>
<g shape-rendering="crispEdges"><path d="M1589.9 798.5L1595.1 798.5L1609.5 812.9L1609.5 818.1L1595.1 832.5L1589.9 832.5L1575.5 818.1L1575.5 812.9Z" fill="#ff0000"/><path d="M1592.5 809.0L1599.0 815.5L1592.5 822.1L1586.0 815.5Z" fill="#fff"/></g>
<text class="lg" filter="url(#na)" transform="translate(1694.5,834.9) scale(0.94,1)">wt. 10</text>
</svg></body></html>
